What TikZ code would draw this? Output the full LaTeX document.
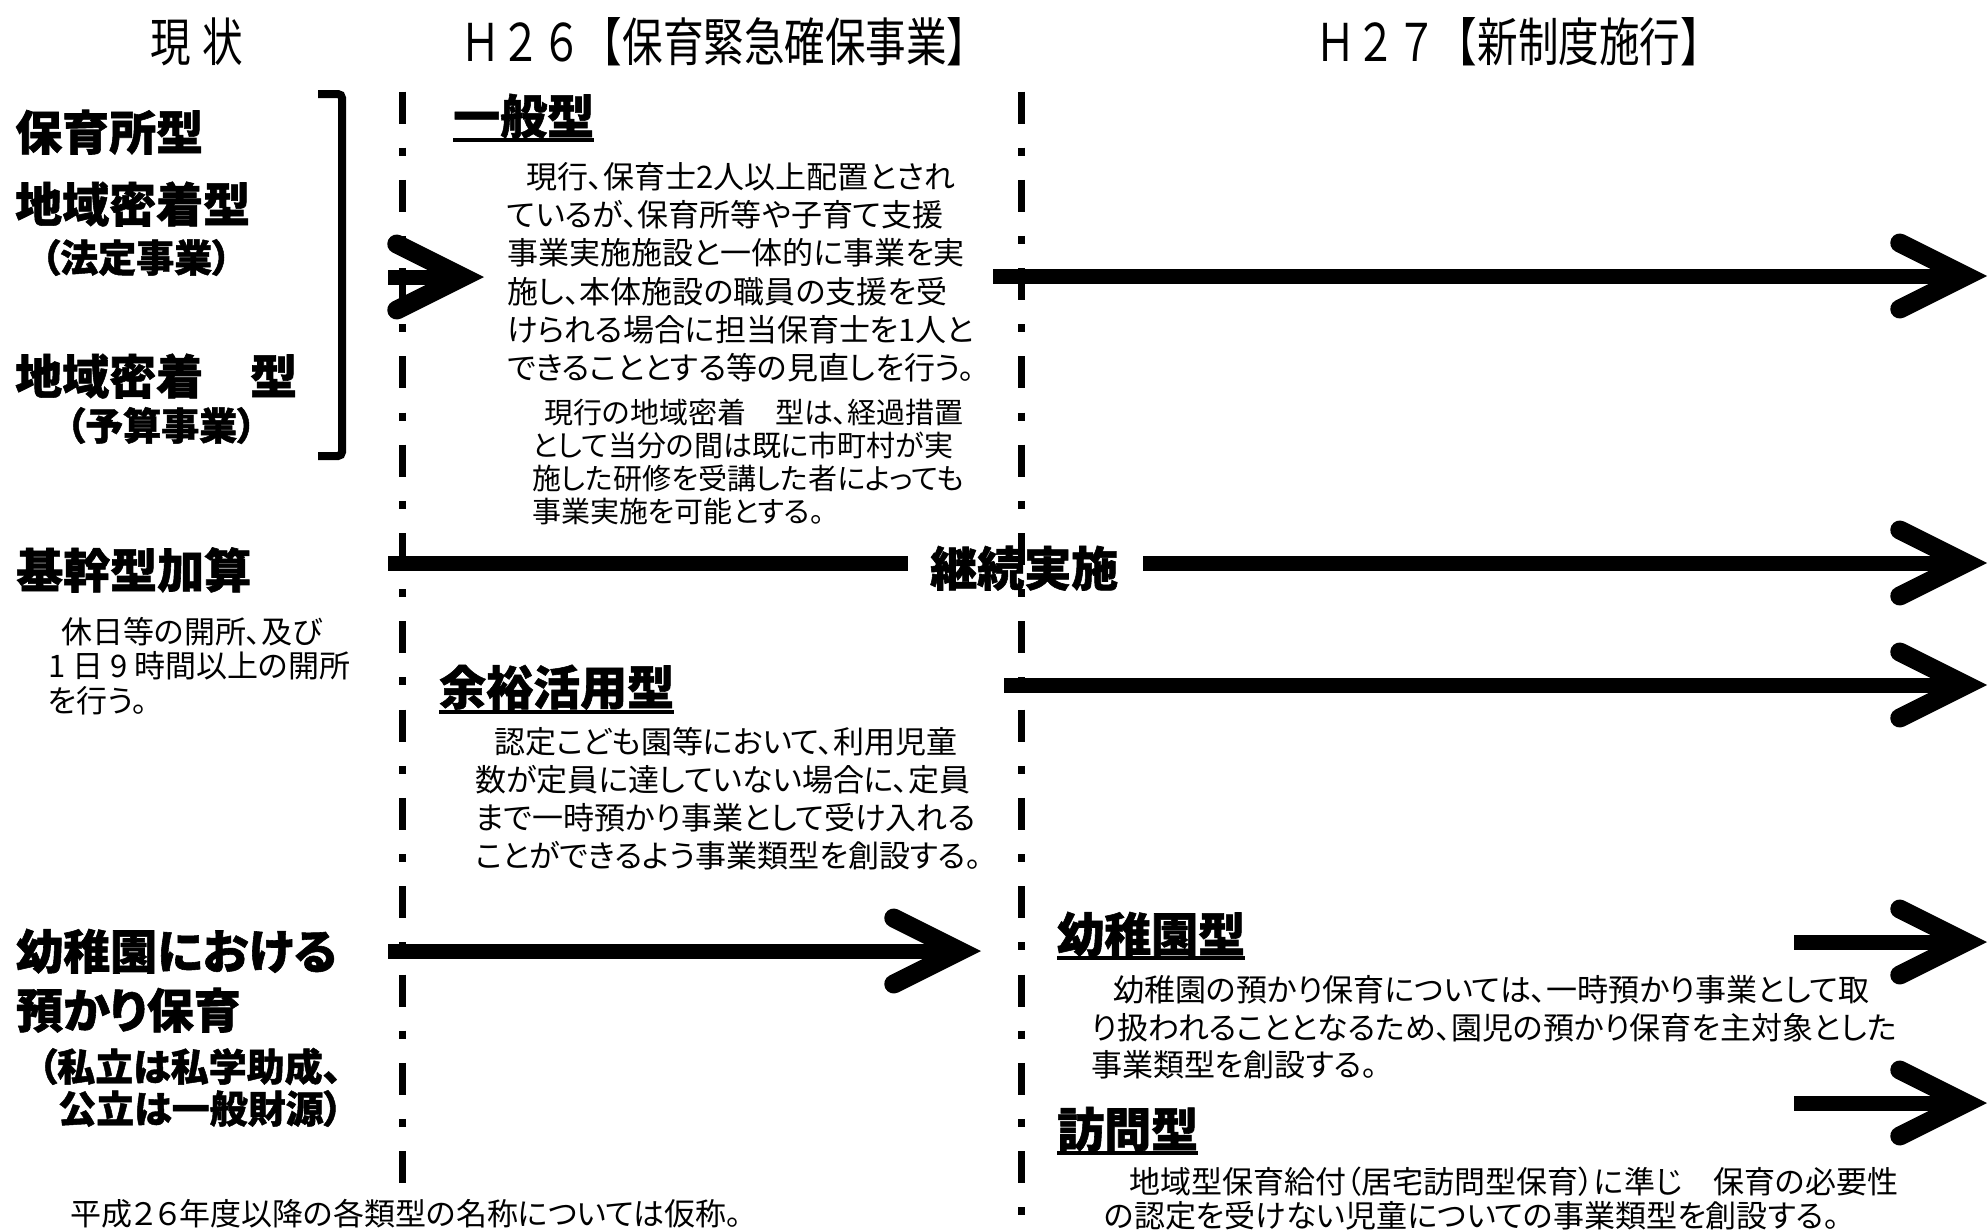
\documentclass[tikz,border=0pt]{standalone}
\usepackage{fontspec}
\usetikzlibrary{arrows.meta}
\newfontfamily\jpr[RawFeature=+palt, BoldFeatures={FakeBold=1.2}]{Noto Sans CJK JP}
\newfontfamily\jph[FakeStretch=0.78]{Noto Sans CJK JP}
\begin{document}
\begin{tikzpicture}[x=1pt,y=-1pt,
  hdr/.style={inner sep=0pt, anchor=base west, font=\jph\fontsize{52}{60}\selectfont},
  ttl/.style={inner sep=0pt, anchor=base west, font=\jpr\bfseries\fontsize{47}{56}\selectfont},
  subttl/.style={inner sep=0pt, anchor=base west, font=\jpr\bfseries\fontsize{38}{46}\selectfont},
  body/.style={inner sep=0pt, anchor=base west, font=\jpr\fontsize{31}{38}\selectfont},
  smallbody/.style={inner sep=0pt, anchor=base west, font=\jpr\fontsize{29}{34}\selectfont},
  sepline/.style={line width=7pt, dash pattern=on 32pt off 24.15pt on 8pt off 24.15pt},
  thickbar/.style={line width=15pt},
  bigarrow/.style={line width=15pt, -{Straight Barb[length=66pt, width=66pt, line width=19pt, line cap=round, line join=miter]}},
  uline/.style={line width=3.5pt},
  bracketline/.style={line width=8pt, rounded corners=4pt}]
\useasboundingbox (0,0) rectangle (1988,1229);

% separators
\coordinate (s1t) at (402,91.5);
\coordinate (s1b) at (402,1184);
\coordinate (s2t) at (1021,91.5);
\coordinate (s2b) at (1021,1229);
\draw[sepline] (s1t) -- (s1b);
\draw[sepline] (s2t) -- (s2b);

% headers
\node[hdr] (h0) at (150,61) {現\hspace{12pt}状};
\node[hdr] (h1) at (460,61) {Ｈ２６【保育緊急確保事業】};
\node[hdr] (h2) at (1315,61) {Ｈ２７【新制度施行】};

% left column
\node[ttl] (l1) at (15,150) {保育所型};
\node[ttl] (l2) at (15,222) {地域密着型};
\node[subttl] (l3) at (41,272) {（法定事業）};
\node[ttl] (l4) at (15,394) {地域密着　型};
\node[subttl] (l5) at (66,440) {（予算事業）};
\coordinate (bk1) at (318,94);
\coordinate (bk2) at (342,94);
\coordinate (bk3) at (342,456);
\coordinate (bk4) at (318,456);
\draw[bracketline] (bk1) -- (bk2) -- (bk3) -- (bk4);

\node[ttl] (l6) at (16,588) {基幹型加算};
\node[body] (l7a) at (61,643) {休日等の開所、及び};
\node[body] (l7b) at (48,677) {1 日 9 時間以上の開所};
\node[body] (l7c) at (48,712) {を行う。};

\node[ttl] (l8) at (16,969) {幼稚園における};
\node[ttl] (l9) at (16,1028) {預かり保育};
\node[subttl] (l10) at (38,1081) {（私立は私学助成、};
\node[subttl] (l11) at (58,1123) {公立は一般財源）};

\node[body] (foot) at (70,1225) {平成２６年度以降の各類型の名称については仮称。};

% middle column
\node[ttl] (m0) at (453,134) {一般型};
\draw[uline] ([yshift=-6pt]m0.base west) -- ([yshift=-6pt]m0.base east);
\node[body] (m1) at (526,188) {現行、保育士2人以上配置とされ};
\node[body] (m2) at (507,226) {ているが、保育所等や子育て支援};
\node[body] (m3) at (507,264) {事業実施施設と一体的に事業を実};
\node[body] (m4) at (507,303) {施し、本体施設の職員の支援を受};
\node[body] (m5) at (507,341) {けられる場合に担当保育士を1人と};
\node[body] (m6) at (507,379) {できることとする等の見直しを行う。};
\node[smallbody] (n1) at (544,423) {現行の地域密着　型は、経過措置};
\node[smallbody] (n2) at (532,456) {として当分の間は既に市町村が実};
\node[smallbody] (n3) at (532,489) {施した研修を受講した者によっても};
\node[smallbody] (n4) at (532,522) {事業実施を可能とする。};

\node[ttl] (kz) at (930,586) {継続実施};

\node[ttl] (y0) at (439,705) {余裕活用型};
\draw[uline] ([yshift=-7pt]y0.base west) -- ([yshift=-7pt]y0.base east);
\node[body] (y1) at (494,753) {認定こども園等において、利用児童};
\node[body] (y2) at (475,791) {数が定員に達していない場合に、定員};
\node[body] (y3) at (475,829) {まで一時預かり事業として受け入れる};
\node[body] (y4) at (475,867) {ことができるよう事業類型を創設する。};

% right column
\node[ttl] (r0) at (1057,952) {幼稚園型};
\draw[uline] ([yshift=-6pt]r0.base west) -- ([yshift=-6pt]r0.base east);
\node[body] (r1) at (1113,1001) {幼稚園の預かり保育については、一時預かり事業として取};
\node[body] (r2) at (1091,1039) {り扱われることとなるため、園児の預かり保育を主対象とした};
\node[body] (r3) at (1091,1076) {事業類型を創設する。};

\node[ttl] (v0) at (1057,1147) {訪問型};
\draw[uline] ([yshift=-6pt]v0.base west) -- ([yshift=-6pt]v0.base east);
\node[body] (v1) at (1129,1193) {地域型保育給付（居宅訪問型保育）に準じ　保育の必要性};
\node[body] (v2) at (1104,1227) {の認定を受けない児童についての事業類型を創設する。};

% arrows
\coordinate (a1s) at (388,277);
\coordinate (a1e) at (484,277);
\coordinate (a2s) at (993,276);
\coordinate (a2e) at (1987,276);
\coordinate (a3s) at (388,563);
\coordinate (kzl) at (908,563);
\coordinate (kzr) at (1143,563);
\coordinate (a3e) at (1987,563);
\coordinate (a4s) at (1004,685);
\coordinate (a4e) at (1987,685);
\coordinate (a5s) at (388,951);
\coordinate (a5e) at (981,951);
\coordinate (a6s) at (1794,942);
\coordinate (a6e) at (1987,942);
\coordinate (a7s) at (1794,1103);
\coordinate (a7e) at (1987,1103);
\draw[bigarrow] (a1s) -- (a1e);
\draw[bigarrow] (a2s) -- (a2e);
\draw[thickbar] (a3s) -- (kzl);
\draw[bigarrow] (kzr) -- (a3e);
\draw[bigarrow] (a4s) -- (a4e);
\draw[bigarrow] (a5s) -- (a5e);
\draw[bigarrow] (a6s) -- (a6e);
\draw[bigarrow] (a7s) -- (a7e);
\end{tikzpicture}
\end{document}
